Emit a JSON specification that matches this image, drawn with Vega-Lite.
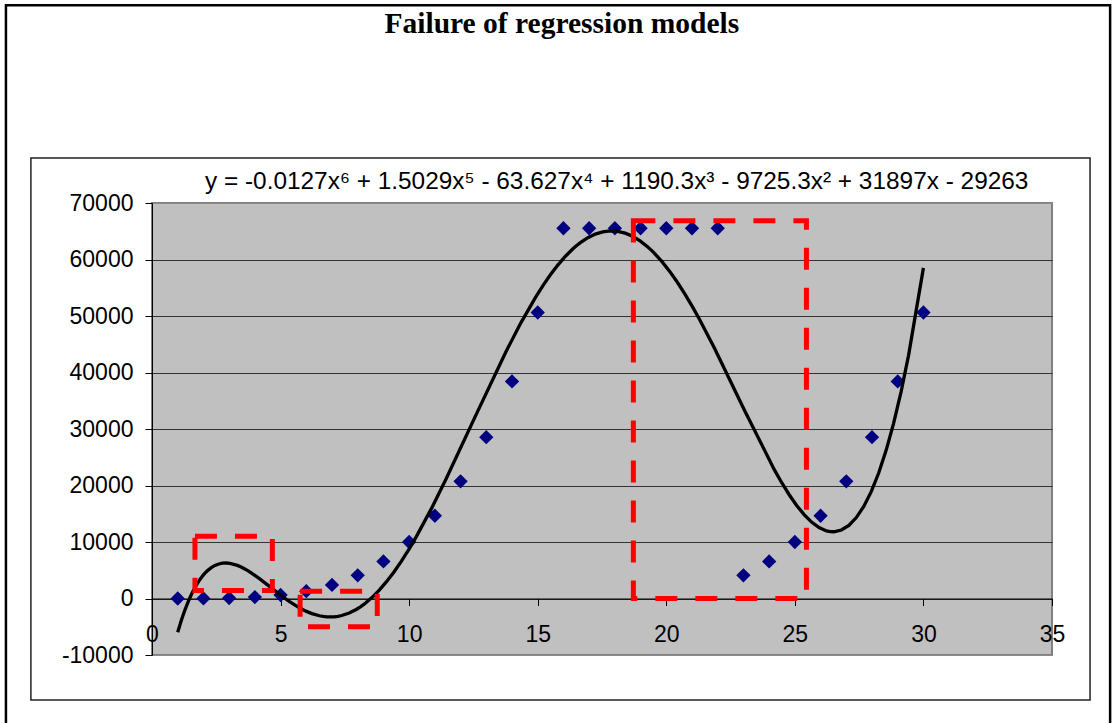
{
  "$schema": "https://vega.github.io/schema/vega-lite/v6.json",
  "width": 900,
  "height": 452,
  "autosize": {"type": "none"},
  "padding": {"left": 152, "top": 203, "right": 60, "bottom": 68},
  "background": "white",
  "config": {
    "view": {"fill": "#c0c0c0", "stroke": "#808080", "strokeWidth": 2},
    "axis": {
      "labelFont": "Liberation Sans",
      "labelFontSize": 23,
      "labelColor": "black",
      "domainColor": "black",
      "domainWidth": 1,
      "tickColor": "black",
      "tickSize": 7,
      "labelFlush": false,
      "labelOverlap": false,
      "title": null
    }
  },
  "datasets": {
    "series": [
      {"x": 1, "y": 1}, {"x": 2, "y": 16}, {"x": 3, "y": 81}, {"x": 4, "y": 256},
      {"x": 5, "y": 625}, {"x": 6, "y": 1296}, {"x": 7, "y": 2401}, {"x": 8, "y": 4096},
      {"x": 9, "y": 6561}, {"x": 10, "y": 10000}, {"x": 11, "y": 14641}, {"x": 12, "y": 20736},
      {"x": 13, "y": 28561}, {"x": 14, "y": 38416}, {"x": 15, "y": 50625}, {"x": 16, "y": 65536},
      {"x": 17, "y": 65536}, {"x": 18, "y": 65536}, {"x": 19, "y": 65536}, {"x": 20, "y": 65536},
      {"x": 21, "y": 65536}, {"x": 22, "y": 65536}, {"x": 23, "y": 4096}, {"x": 24, "y": 6561},
      {"x": 25, "y": 10000}, {"x": 26, "y": 14641}, {"x": 27, "y": 20736}, {"x": 28, "y": 28561},
      {"x": 29, "y": 38416}, {"x": 30, "y": 50625}
    ],
    "misfits": [
      {"x": 1.67, "x2": 4.68, "y": 1400, "y2": 11000},
      {"x": 5.76, "x2": 8.76, "y": -5000, "y2": 1300},
      {"x": 18.72, "x2": 25.45, "y": 0, "y2": 66870}
    ]
  },
  "encoding": {
    "x": {
      "type": "quantitative",
      "scale": {"domain": [0, 35], "nice": false, "zero": false},
      "axis": {
        "orient": "bottom",
        "offset": -56.5,
        "values": [0, 5, 10, 15, 20, 25, 30, 35],
        "grid": false,
        "labelPadding": 18
      }
    },
    "y": {
      "type": "quantitative",
      "scale": {"domain": [-10000, 70000], "nice": false, "zero": false},
      "axis": {
        "values": [-10000, 0, 10000, 20000, 30000, 40000, 50000, 60000, 70000],
        "labelExpr": "'' + datum.value",
        "grid": true,
        "gridWidth": 1,
        "gridColor": {
          "condition": {"test": "datum.value === 70000 || datum.value === -10000", "value": "#8c8c8c"},
          "value": "#333333"
        },
        "labelPadding": 12
      }
    }
  },
  "layer": [
    {
      "description": "outer page frame",
      "data": {"values": [{}]},
      "mark": {"type": "rect", "filled": false, "stroke": "black", "strokeWidth": 2.5},
      "encoding": {
        "x": {"datum": -5.68},
        "x2": {"datum": 37.26},
        "y": {"datum": 105000},
        "y2": {"datum": -25000}
      }
    },
    {
      "description": "chart area box",
      "data": {"values": [{}]},
      "mark": {"type": "rect", "filled": false, "stroke": "#222222", "strokeWidth": 1.5},
      "encoding": {
        "x": {"datum": -4.71},
        "x2": {"datum": 36.48},
        "y": {"datum": 77960},
        "y2": {"datum": -17960}
      }
    },
    {
      "description": "chart title",
      "data": {"values": [{}]},
      "mark": {"type": "text", "align": "center", "baseline": "alphabetic", "font": "Liberation Serif", "fontWeight": "bold", "fontSize": 29.5, "color": "black"},
      "encoding": {
        "x": {"datum": 15.94},
        "y": {"datum": 100090},
        "text": {"value": "Failure of regression models"}
      }
    },
    {
      "data": {"name": "series"},
      "mark": {"type": "point", "shape": "diamond", "filled": true, "color": "#000080", "size": 205, "opacity": 1},
      "encoding": {
        "x": {"field": "x", "type": "quantitative"},
        "y": {"field": "y", "type": "quantitative"}
      }
    },
    {
      "data": {"name": "series"},
      "transform": [{"regression": "y", "on": "x", "method": "poly", "order": 6}],
      "mark": {"type": "line", "color": "black", "strokeWidth": 3.3},
      "encoding": {
        "x": {"field": "x", "type": "quantitative"},
        "y": {"field": "y", "type": "quantitative"}
      }
    },
    {
      "data": {"name": "misfits"},
      "mark": {"type": "rect", "filled": false, "stroke": "#ff0000", "strokeWidth": 5, "strokeDash": [22, 18]},
      "encoding": {
        "x": {"field": "x", "type": "quantitative"},
        "x2": {"field": "x2"},
        "y": {"field": "y", "type": "quantitative"},
        "y2": {"field": "y2"}
      }
    },
    {
      "description": "fitted polynomial equation",
      "data": {"values": [{}]},
      "mark": {"type": "text", "align": "left", "baseline": "alphabetic", "font": "Liberation Sans", "fontSize": 24.4, "color": "black"},
      "encoding": {
        "x": {"datum": 2.06},
        "y": {"datum": 72480},
        "text": {"value": "y = -0.0127x⁶ + 1.5029x⁵ - 63.627x⁴ + 1190.3x³ - 9725.3x² + 31897x - 29263"}
      }
    }
  ]
}
